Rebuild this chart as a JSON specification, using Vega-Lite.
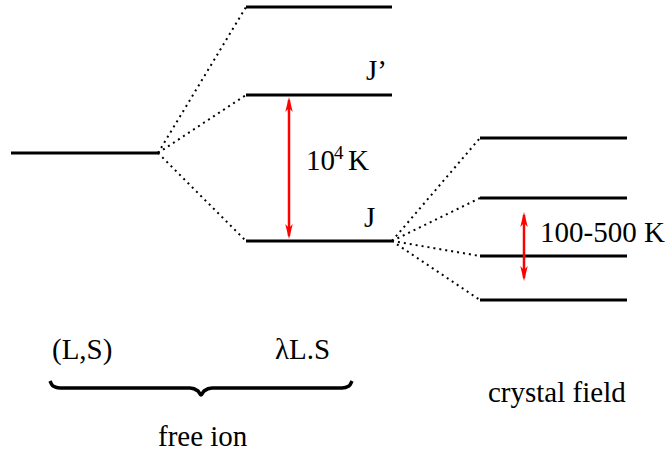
{
  "$schema": "https://vega.github.io/schema/vega-lite/v6.json",
  "autosize": {"type": "fit", "contains": "padding"},
  "width": 665,
  "height": 453,
  "padding": 0,
  "background": "white",
  "config": {"view": {"stroke": null}},
  "datasets": {
    "levels": [
      {"x": 11, "x2": 158, "y": 153},
      {"x": 246, "x2": 392, "y": 7},
      {"x": 246, "x2": 392, "y": 95},
      {"x": 246, "x2": 392, "y": 241},
      {"x": 480, "x2": 627, "y": 138},
      {"x": 480, "x2": 627, "y": 198},
      {"x": 480, "x2": 627, "y": 256},
      {"x": 480, "x2": 627, "y": 300}
    ],
    "links": [
      {"x": 158, "y": 153, "x2": 246, "y2": 7},
      {"x": 158, "y": 153, "x2": 246, "y2": 95},
      {"x": 158, "y": 153, "x2": 246, "y2": 241},
      {"x": 392, "y": 241, "x2": 480, "y2": 138},
      {"x": 392, "y": 241, "x2": 480, "y2": 198},
      {"x": 392, "y": 241, "x2": 480, "y2": 256},
      {"x": 392, "y": 241, "x2": 480, "y2": 300}
    ],
    "arrows": [
      {"x": 289, "y": 100, "y2": 236},
      {"x": 524, "y": 215, "y2": 278}
    ],
    "heads": [
      {"x": 289, "y": 97, "dir": "up"},
      {"x": 289, "y": 239, "dir": "down"},
      {"x": 524, "y": 212, "dir": "up"},
      {"x": 524, "y": 281, "dir": "down"}
    ],
    "labels": [
      {"x": 366, "y": 80, "t": "J’", "s": 29},
      {"x": 364, "y": 227, "t": "J", "s": 29},
      {"x": 306, "y": 170, "t": "10", "s": 29},
      {"x": 334, "y": 159, "t": "4", "s": 19},
      {"x": 348, "y": 170, "t": "K", "s": 29},
      {"x": 540, "y": 242, "t": "100-500 K", "s": 29},
      {"x": 52, "y": 359, "t": "(L,S)", "s": 29},
      {"x": 275, "y": 359, "t": "λL.S", "s": 29},
      {"x": 158, "y": 446, "t": "free ion", "s": 29},
      {"x": 488, "y": 402, "t": "crystal field", "s": 29}
    ],
    "brace": [
      {"x": 50, "y": 381},
      {"x": 53, "y": 386},
      {"x": 60, "y": 388},
      {"x": 190, "y": 388},
      {"x": 198, "y": 391},
      {"x": 201, "y": 395},
      {"x": 204, "y": 391},
      {"x": 212, "y": 388},
      {"x": 342, "y": 388},
      {"x": 349, "y": 386},
      {"x": 352, "y": 381}
    ]
  },
  "layer": [
    {
      "data": {"name": "links"},
      "mark": {"type": "rule", "stroke": "black", "strokeWidth": 2, "strokeDash": [2, 4]},
      "encoding": {
        "x": {"field": "x", "type": "quantitative", "scale": {"domain": [0, 665]}, "axis": null},
        "y": {"field": "y", "type": "quantitative", "scale": {"domain": [453, 0]}, "axis": null},
        "x2": {"field": "x2"},
        "y2": {"field": "y2"}
      }
    },
    {
      "data": {"name": "levels"},
      "mark": {"type": "rule", "stroke": "black", "strokeWidth": 3, "strokeCap": "butt"},
      "encoding": {
        "x": {"field": "x", "type": "quantitative", "scale": {"domain": [0, 665]}, "axis": null},
        "x2": {"field": "x2"},
        "y": {"field": "y", "type": "quantitative", "scale": {"domain": [453, 0]}, "axis": null}
      }
    },
    {
      "data": {"name": "arrows"},
      "mark": {"type": "rule", "stroke": "#ff0000", "strokeWidth": 2.5},
      "encoding": {
        "x": {"field": "x", "type": "quantitative", "scale": {"domain": [0, 665]}, "axis": null},
        "y": {"field": "y", "type": "quantitative", "scale": {"domain": [453, 0]}, "axis": null},
        "y2": {"field": "y2"}
      }
    },
    {
      "data": {"name": "heads"},
      "mark": {"type": "point", "filled": true, "color": "#ff0000", "size": 100, "opacity": 1, "strokeWidth": 0},
      "encoding": {
        "x": {"field": "x", "type": "quantitative", "scale": {"domain": [0, 665]}, "axis": null},
        "y": {"field": "y", "type": "quantitative", "scale": {"domain": [453, 0]}, "axis": null},
        "shape": {
          "field": "dir", "type": "nominal", "legend": null,
          "scale": {"domain": ["up", "down"], "range": ["M0,0L0.75,3L0,2.2L-0.75,3Z", "M0,0L0.75,-3L0,-2.2L-0.75,-3Z"]}
        }
      }
    },
    {
      "data": {"name": "brace"},
      "mark": {"type": "line", "stroke": "black", "strokeWidth": 3.5, "interpolate": "monotone"},
      "encoding": {
        "x": {"field": "x", "type": "quantitative", "scale": {"domain": [0, 665]}, "axis": null},
        "y": {"field": "y", "type": "quantitative", "scale": {"domain": [453, 0]}, "axis": null}
      }
    },
    {
      "data": {"name": "labels"},
      "mark": {"type": "text", "align": "left", "baseline": "alphabetic", "font": "Liberation Serif", "color": "black"},
      "encoding": {
        "x": {"field": "x", "type": "quantitative", "scale": {"domain": [0, 665]}, "axis": null},
        "y": {"field": "y", "type": "quantitative", "scale": {"domain": [453, 0]}, "axis": null},
        "text": {"field": "t"},
        "size": {"field": "s", "type": "quantitative", "scale": null, "legend": null}
      }
    }
  ]
}
